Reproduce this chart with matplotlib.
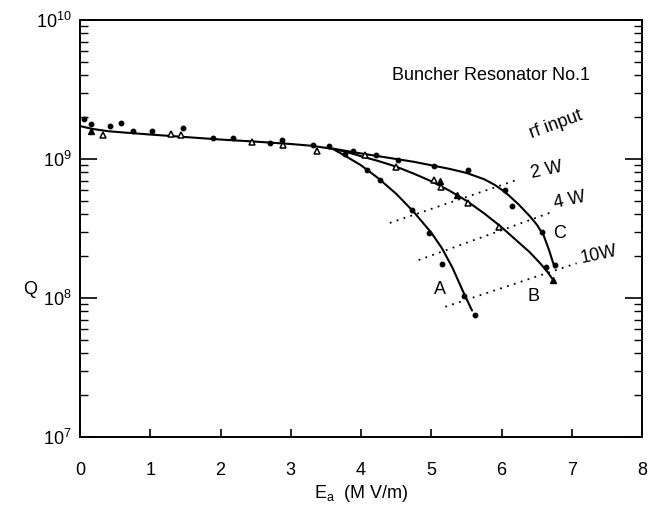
import numpy as np
import matplotlib
matplotlib.use("Agg")
from matplotlib import pyplot as plt

plt.rcParams['font.family'] = ['Liberation Sans', 'DejaVu Sans']
plt.rcParams['mathtext.fontset'] = 'custom'
plt.rcParams['mathtext.rm'] = 'Liberation Sans'

# fitted curves, E_a in MV/m, log10(Q)
common_e = [0.0, 0.17, 0.4, 0.64, 1.0, 1.5, 2.0, 2.5, 3.0, 3.3, 3.5, 3.6]
common_logq = [9.237, 9.217, 9.20, 9.19, 9.176, 9.158, 9.14, 9.125, 9.108,
               9.095, 9.08, 9.072]

curve_a_e = [3.6, 3.75, 4.0, 4.25, 4.5, 4.75, 5.0, 5.15, 5.3, 5.45, 5.58]
curve_a_logq = [9.072, 9.03, 8.955, 8.86, 8.75, 8.62, 8.47, 8.36, 8.22,
                8.05, 7.91]

curve_b_e = [3.6, 3.8, 4.0, 4.25, 4.5, 4.75, 5.0, 5.25, 5.5, 5.75, 6.0, 6.2,
             6.4, 6.55, 6.65, 6.75]
curve_b_logq = [9.072, 9.05, 9.02, 8.985, 8.945, 8.895, 8.84, 8.775, 8.70,
                8.61, 8.51, 8.42, 8.33, 8.25, 8.19, 8.12]

curve_c_e = [3.6, 3.8, 4.0, 4.25, 4.5, 4.75, 5.0, 5.25, 5.5, 5.75, 5.9, 6.0,
             6.1, 6.25, 6.4, 6.5, 6.6, 6.68, 6.73, 6.76]
curve_c_logq = [9.075, 9.057, 9.04, 9.02, 9.0, 8.98, 8.955, 8.93, 8.90,
                8.855, 8.815, 8.78, 8.74, 8.67, 8.59, 8.53, 8.45, 8.34,
                8.26, 8.22]

# measured points
dots_e = [0.05, 0.15, 0.43, 0.58, 0.75, 1.02, 1.47, 1.89, 2.18, 2.71, 2.87,
          3.31, 3.54, 3.77, 3.89, 4.22, 4.53, 5.04, 5.52, 6.05, 6.15, 6.58,
          6.76, 4.09, 4.27, 4.73, 4.97, 5.15, 5.47, 5.62, 6.64]
dots_logq = [9.285, 9.254, 9.237, 9.26, 9.20, 9.20, 9.225, 9.15, 9.15, 9.115,
             9.14, 9.10, 9.09, 9.036, 9.055, 9.026, 8.994, 8.953, 8.922, 8.78,
             8.66, 8.475, 8.24, 8.92, 8.85, 8.633, 8.47, 8.245, 8.014, 7.88,
             8.22]

open_tri_e = [0.33, 1.30, 1.44, 2.45, 2.89, 3.37, 4.06, 4.50, 5.04, 5.14,
              5.53, 5.97]
open_tri_logq = [9.176, 9.18, 9.17, 9.12, 9.10, 9.055, 9.026, 8.94, 8.85,
                 8.80, 8.68, 8.51]

filled_tri_e = [0.15, 5.12, 5.36, 6.73]
filled_tri_logq = [9.205, 8.84, 8.74, 8.13]

# rf input lines (constant power)
power_labels = ["2 W", "4 W", "10W"]
power_e = [[4.41, 6.25], [4.82, 6.70], [5.20, 7.07]]
power_logq = [[8.54, 8.855], [8.273, 8.615], [7.937, 8.25]]
power_text_pos = [(6.64, 8.92), (6.97, 8.705), (7.38, 8.31)]

fig = plt.figure(figsize=(6.5, 5.07), dpi=100)
ax = fig.add_axes([80 / 650, 1 - 437 / 507, 562 / 650, 417 / 507])

def q(vals):
    return 10 ** np.asarray(vals)

line_kw = dict(color='black', lw=1.5, solid_capstyle='round',
               solid_joinstyle='round')
ax.plot(common_e, q(common_logq), **line_kw)
ax.plot(curve_a_e, q(curve_a_logq), **line_kw)
ax.plot(curve_b_e, q(curve_b_logq), **line_kw)
ax.plot(curve_c_e, q(curve_c_logq), **line_kw)

ax.plot(dots_e, q(dots_logq), 'o', color='black', ms=3.2, ls='none')
ax.plot(open_tri_e, q(open_tri_logq), '^', mfc='white', mec='black',
        mew=1.1, ms=5, ls='none')
ax.plot(filled_tri_e, q(filled_tri_logq), '^', color='black', ms=5,
        ls='none')

for lab, pe, pq, (tx, ty) in zip(power_labels, power_e, power_logq,
                                  power_text_pos):
    ax.plot(pe, q(pq), color='black', lw=1.3, ls=(0, (1, 3)))
    ax.text(tx, 10 ** ty, lab, fontsize=13, rotation=12, ha='center',
            va='center')

ax.text(6.78, 10 ** 9.245, "rf input", fontsize=13, rotation=20,
        ha='center', va='center')
ax.text(5.12, 10 ** 8.06, "A", fontsize=13, ha='center', va='center')
ax.text(6.46, 10 ** 8.01, "B", fontsize=13, ha='center', va='center')
ax.text(6.83, 10 ** 8.465, "C", fontsize=13, ha='center', va='center')
ax.text(0.907, 0.868, "Buncher Resonator No.1", fontsize=13,
        transform=ax.transAxes, ha='right', va='center')

ax.set_yscale('log')
ax.set_xlim(0, 8)
ax.set_ylim(1e7, 1e10)
ax.set_xticks(range(9))
ax.set_yticks([1e7, 1e8, 1e9, 1e10])
ax.set_yticklabels([r"$10^7$", r"$10^8$", r"$10^9$", r"$10^{10}$"])
ax.tick_params(axis='x', direction='in', length=6, width=1.2, labelsize=13,
               pad=18, top=False)
ax.tick_params(axis='y', which='major', direction='in', length=12,
               width=1.2, labelsize=13, right=True, pad=6)
ax.tick_params(axis='y', which='minor', direction='in', length=6,
               width=1.0, right=True, labelleft=False)
for sp in ax.spines.values():
    sp.set_linewidth(1.4)

ax.set_xlabel(r"E$_\mathrm{a}$  (M V/m)", fontsize=13, va='center')
ax.xaxis.set_label_coords(0.5, -0.135)
ax.set_ylabel("Q", fontsize=13, rotation=0, va='center')
ax.yaxis.set_label_coords(-0.089, 0.353)

fig.savefig("out.png", dpi=100)
